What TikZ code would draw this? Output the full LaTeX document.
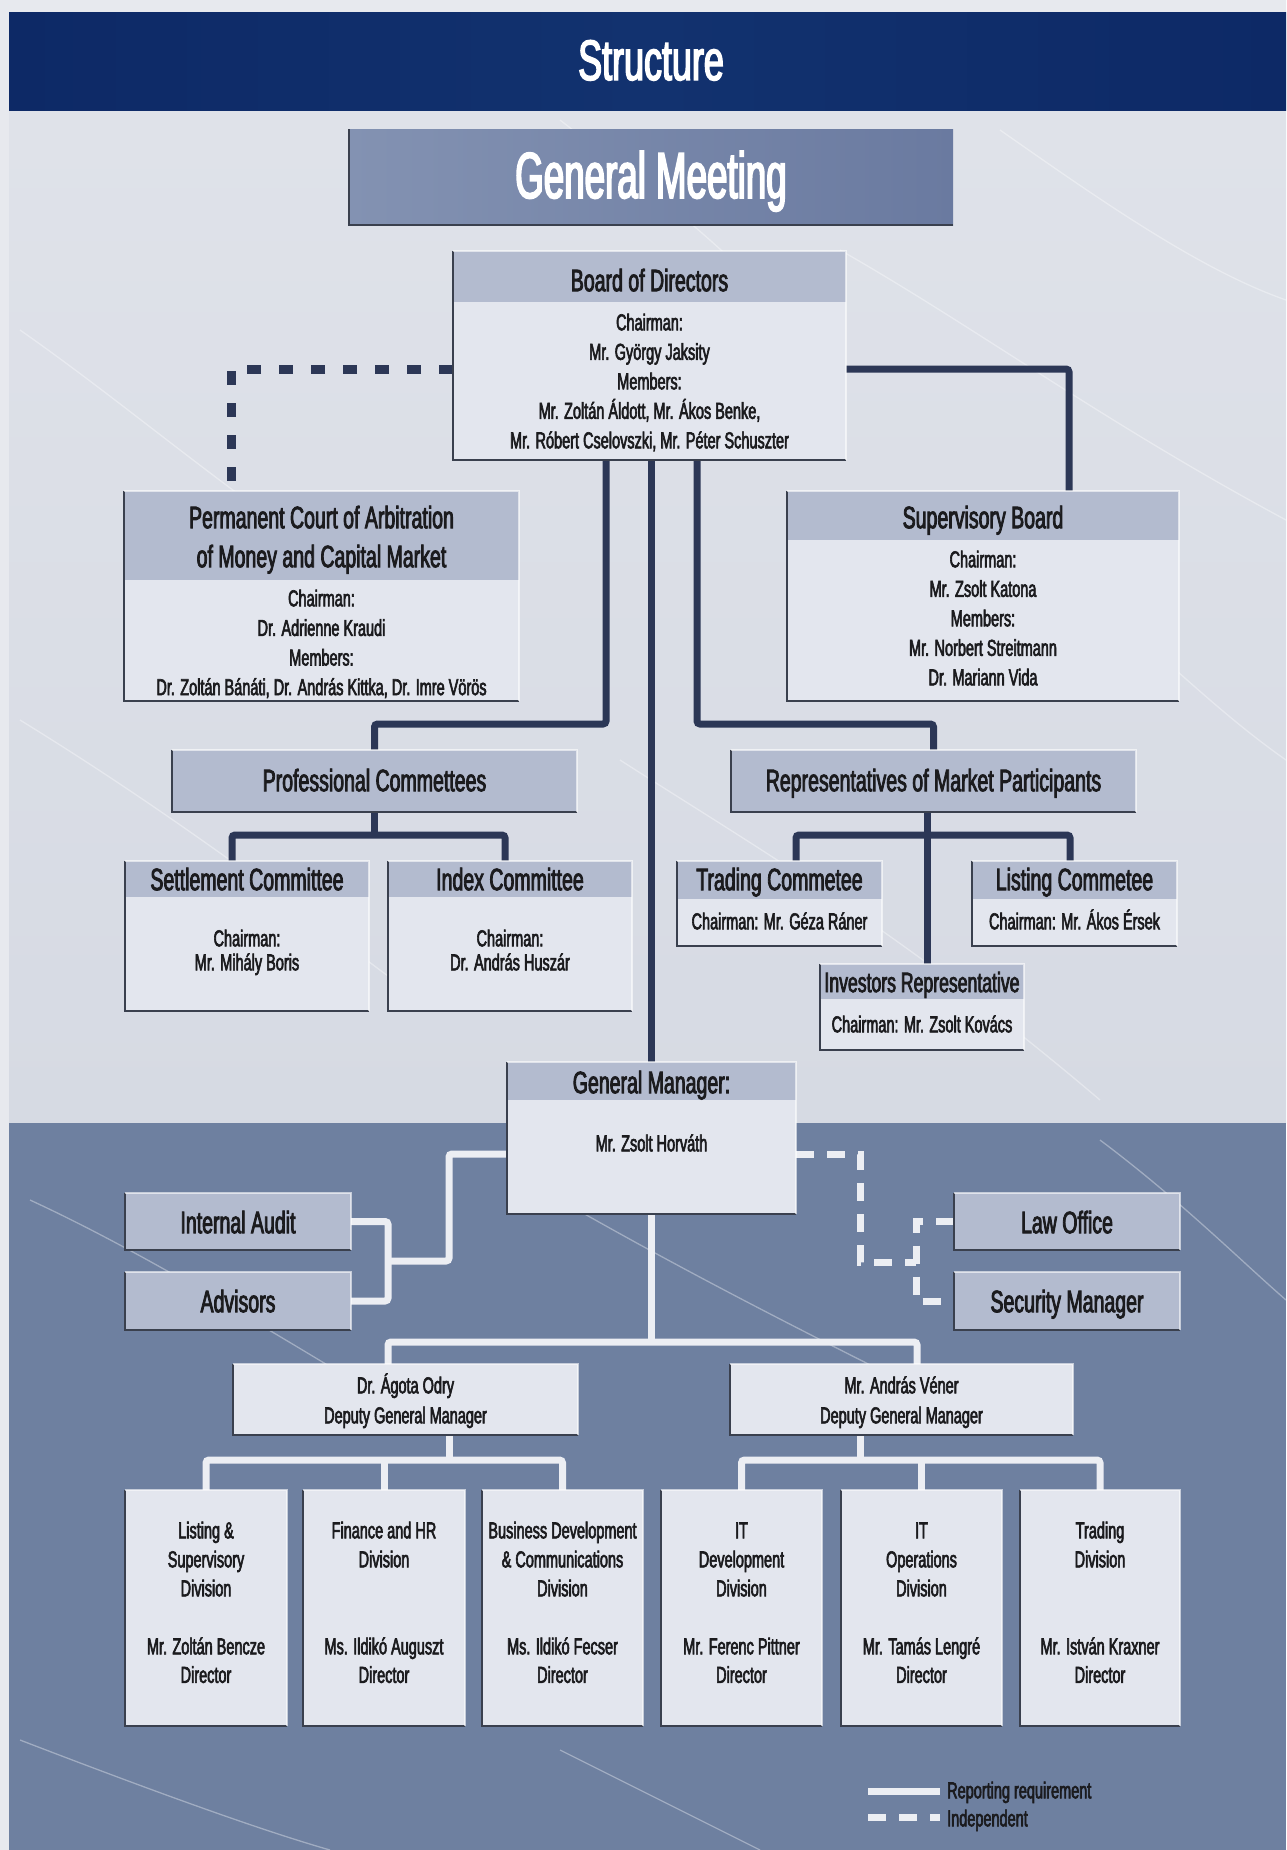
\documentclass[tikz,border=0pt]{standalone}
\usepackage{fontspec}
\setmainfont{Liberation Sans}[FakeStretch=0.63,FakeBold=2.6]
\newfontfamily\gmfont{Liberation Sans}[FakeStretch=0.565,FakeBold=2.6]
\usetikzlibrary{fit,calc}
\pgfdeclarelayer{bg}\pgfdeclarelayer{conn}
\pgfsetlayers{bg,conn,main}
\definecolor{bgtop}{HTML}{D6DAE3}
\definecolor{bgtop2}{HTML}{E0E3EA}
\definecolor{bgbot}{HTML}{6E80A0}
\definecolor{margin}{HTML}{E7E9EE}
\definecolor{banner}{HTML}{0D2966}
\definecolor{banner2}{HTML}{12326F}
\definecolor{head}{HTML}{B3BBCF}
\definecolor{body}{HTML}{E3E6EE}
\definecolor{gmL}{HTML}{8392B2}
\definecolor{gmR}{HTML}{6A7AA0}
\definecolor{navy}{HTML}{2C3756}
\definecolor{ink}{HTML}{1B1B1E}
\definecolor{pale}{HTML}{ECEEF3}
\definecolor{edgeD}{HTML}{3A404E}
\newcommand\fs[2]{\fontsize{#1}{#2}\selectfont}
\newcommand\orgbox[7]{%
  \fill[#7] (#2,#3) rectangle (#4,#5);
  \fill[head] (#2,#3) rectangle (#4,#6);
  \node[frame, fit={(#2,#3) (#4,#5)}] (#1) {};
  \draw[edgeD, line width=2.2] (#1.north west) -- (#1.south west) -- (#1.south east);
  \draw[white, opacity=.6, line width=1.2] (#1.north west) -- (#1.north east) -- (#1.south east);
}
\newcommand\stack[6]{\foreach \l [count=\i] in {#6} {\node[#5, anchor=base] (#1\i) at (#2,{#3+(\i-1)*#4}) {\l};}}
\begin{document}
\begin{tikzpicture}[x=1pt,y=-1pt,
  frame/.style={inner sep=0pt, outer sep=0pt, draw=none},
  txt/.style={text=ink, inner sep=0pt},
  tt/.style={txt, font=\fs{31}{39}},
  bt/.style={txt, font=\fs{23}{29.5}},
  darkline/.style={draw=navy, line width=7, rounded corners=3},
  darkdash/.style={draw=navy, line width=9, dash pattern=on 14 off 18},
  lightline/.style={draw=pale, line width=7, rounded corners=3},
  lightdash/.style={draw=pale, line width=7, dash pattern=on 18 off 13},
  crack/.style={draw=white, line width=1.3, opacity=.35},
]
\useasboundingbox (0,0) rectangle (1286,1850);
\begin{pgfonlayer}{bg}
\shade[top color=bgtop2, bottom color=bgtop] (0,0) rectangle (1286,1123);
\fill[bgbot] (0,1123) rectangle (1286,1850);
\fill[margin] (0,0) rectangle (9,1850);
\fill[margin] (0,0) rectangle (1286,12);
\shade[left color=banner, right color=banner, middle color=banner2] (9,12) rectangle (1286,110);
% faint marble streaks
\draw[crack] (20,330) .. controls (120,400) and (200,470) .. (330,560);
\draw[crack] (560,120) .. controls (650,190) and (720,240) .. (800,330);
\draw[crack] (840,250) .. controls (980,330) and (1100,420) .. (1286,520);
\draw[crack] (1000,130) .. controls (1100,200) and (1200,270) .. (1286,300);
\draw[crack] (20,720) .. controls (150,800) and (260,880) .. (420,1000);
\draw[crack] (620,760) .. controls (760,850) and (900,930) .. (1100,1100);
\draw[crack] (1040,560) .. controls (1130,620) and (1200,700) .. (1286,760);
\draw[crack] (30,1200) .. controls (160,1260) and (300,1350) .. (420,1420);
\draw[crack] (560,1200) .. controls (700,1280) and (820,1340) .. (980,1420);
\draw[crack] (1100,1140) .. controls (1180,1200) and (1240,1260) .. (1286,1300);
\draw[crack] (20,1740) .. controls (150,1790) and (260,1830) .. (330,1850);
\draw[crack] (560,1750) .. controls (640,1790) and (700,1820) .. (760,1850);
\end{pgfonlayer}
\node[txt, text=white, font=\fs{57}{60}, anchor=base] (ttl) at (651,80) {Structure};

% General Meeting
\shade[left color=gmL, right color=gmR] (349,129) rectangle (953,225);
\node[frame, fit={(349,129) (953,225)}] (gm) {};
\draw[edgeD, line width=2.5] (gm.north west) -- (gm.south west) -- (gm.south east);
\node[txt, text=white, font=\gmfont\fs{65}{70}, anchor=base] (gmt) at (651,198) {General Meeting};

% Board of Directors
\orgbox{bod}{453}{251}{846}{460}{302}{body}
\node[tt, anchor=base] (bodt) at (649.5,291.2) {Board of Directors};
\stack{bodb}{649.5}{330.3}{29.5}{bt}{Chairman:, Mr. György Jaksity, Members:, {Mr. Zoltán Áldott, Mr. Ákos Benke,}, {Mr. Róbert Cselovszki, Mr. Péter Schuszter}}

% Permanent Court
\orgbox{pca}{124}{491}{519}{701}{580}{body}
\stack{pcat}{321.5}{528.2}{39}{tt}{Permanent Court of Arbitration, of Money and Capital Market}
\stack{pcab}{321.5}{606.3}{29.6}{bt}{Chairman:, Dr. Adrienne Kraudi, Members:, {Dr. Zoltán Bánáti, Dr. András Kittka, Dr. Imre Vörös}}

% Supervisory Board
\orgbox{sb}{787}{491}{1179}{701}{540}{body}
\node[tt, anchor=base] (sbt) at (983,528.2) {Supervisory Board};
\stack{sbb}{983}{567.3}{29.5}{bt}{Chairman:, Mr. Zsolt Katona, Members:, Mr. Norbert Streitmann, Dr. Mariann Vida}

% Professional committees / Representatives
\orgbox{pc}{172}{750}{577}{812}{812}{head}
\node[tt, anchor=base] (pct) at (374.5,791.2) {Professional Commettees};
\orgbox{rmp}{731}{750}{1136}{812}{812}{head}
\node[tt, anchor=base] (rmpt) at (933.5,791.2) {Representatives of Market Participants};

% Committees
\orgbox{sc}{125}{861}{369}{1011}{897}{body}
\node[tt, anchor=base] (sct) at (247,890.2) {Settlement Committee};
\stack{scb}{247}{946.3}{24}{bt}{Chairman:, Mr. Mihály Boris}
\orgbox{ic}{388}{861}{632}{1011}{897}{body}
\node[tt, anchor=base] (ict) at (510,890.2) {Index Committee};
\stack{icb}{510}{946.3}{24}{bt}{Chairman:, Dr. András Huszár}
\orgbox{tc}{677}{861}{882}{946}{899}{body}
\node[tt, anchor=base] (tct) at (779.5,890.2) {Trading Commetee};
\node[bt, anchor=base] (tcb) at (779.5,929.3) {Chairman: Mr. Géza Ráner};
\orgbox{lc}{972}{861}{1177}{946}{899}{body}
\node[tt, anchor=base] (lct) at (1074.5,890.2) {Listing Commetee};
\node[bt, anchor=base] (lcb) at (1074.5,929.3) {Chairman: Mr. Ákos Érsek};
\orgbox{ir}{820}{964}{1024}{1050}{999}{body}
\node[txt, font=\fs{28}{32}, anchor=base] (irt) at (922,992.1) {Investors Representative};
\node[bt, anchor=base] (irb) at (922,1032.3) {Chairman: Mr. Zsolt Kovács};

% General Manager
\orgbox{gmgr}{507}{1062}{796}{1214}{1100}{body}
\node[tt, anchor=base] (gmgrt) at (651.5,1093.2) {General Manager:};
\node[bt, anchor=base] (gmgrb) at (651.5,1151.3) {Mr. Zsolt Horváth};

% Staff boxes
\orgbox{ia}{125}{1193}{351}{1250}{1250}{head}
\node[tt, anchor=base] (iat) at (238,1233.2) {Internal Audit};
\orgbox{adv}{125}{1272}{351}{1330}{1330}{head}
\node[tt, anchor=base] (advt) at (238,1312.2) {Advisors};
\orgbox{law}{954}{1193}{1180}{1250}{1250}{head}
\node[tt, anchor=base] (lawt) at (1067,1233.2) {Law Office};
\orgbox{sec}{954}{1272}{1180}{1330}{1330}{head}
\node[tt, anchor=base] (sect) at (1067,1312.2) {Security Manager};

% Deputies
\orgbox{dep1}{233}{1364}{578}{1435}{1364}{body}
\stack{dep1t}{405.5}{1393.3}{30}{bt}{Dr. Ágota Odry, Deputy General Manager}
\orgbox{dep2}{730}{1364}{1073}{1435}{1364}{body}
\stack{dep2t}{901.5}{1393.3}{30}{bt}{Mr. András Véner, Deputy General Manager}

% Divisions
\orgbox{div1}{125}{1490}{287}{1726}{1490}{body}
\stack{div1a}{206}{1538.3}{29}{bt}{Listing \&, Supervisory, Division}
\stack{div1b}{206}{1654.3}{28.5}{bt}{Mr. Zoltán Bencze, Director}
\orgbox{div2}{303}{1490}{465}{1726}{1490}{body}
\stack{div2a}{384}{1538.3}{29}{bt}{Finance and HR, Division}
\stack{div2b}{384}{1654.3}{28.5}{bt}{Ms. Ildikó Auguszt, Director}
\orgbox{div3}{482}{1490}{643}{1726}{1490}{body}
\stack{div3a}{562.5}{1538.3}{29}{bt}{Business Development, \& Communications, Division}
\stack{div3b}{562.5}{1654.3}{28.5}{bt}{Ms. Ildikó Fecser, Director}
\orgbox{div4}{661}{1490}{822}{1726}{1490}{body}
\stack{div4a}{741.5}{1538.3}{29}{bt}{IT, Development, Division}
\stack{div4b}{741.5}{1654.3}{28.5}{bt}{Mr. Ferenc Pittner, Director}
\orgbox{div5}{841}{1490}{1002}{1726}{1490}{body}
\stack{div5a}{921.5}{1538.3}{29}{bt}{IT, Operations, Division}
\stack{div5b}{921.5}{1654.3}{28.5}{bt}{Mr. Tamás Lengré, Director}
\orgbox{div6}{1020}{1490}{1180}{1726}{1490}{body}
\stack{div6a}{1100}{1538.3}{29}{bt}{Trading, Division}
\stack{div6b}{1100}{1654.3}{28.5}{bt}{Mr. István Kraxner, Director}

% Legend
\coordinate (lg1) at (868,1791);
\coordinate (lg2) at (940,1791);
\coordinate (lg3) at (868,1817);
\coordinate (lg4) at (940,1817);
\node[bt, anchor=base west] (lgt1) at (947,1798.3) {Reporting requirement};
\node[bt, anchor=base west] (lgt2) at (947,1826.3) {Independent};

% Connectors
\coordinate (j1) at (231,369);
\coordinate (j2) at (1069,369);
\coordinate (j3) at (606,724);
\coordinate (j4) at (697,724);
\coordinate (s1) at (232,835);
\coordinate (s2) at (505,835);
\coordinate (r1) at (796,835);
\coordinate (r2) at (1070,835);
\coordinate (rm) at (927,835);
\coordinate (a1) at (449,1154);
\coordinate (a2) at (449,1261);
\coordinate (a3) at (388,1261);
\coordinate (b1) at (860,1154);
\coordinate (b2) at (860,1262);
\coordinate (b3) at (916,1262);
\coordinate (c0) at (651,1342);
\coordinate (c1) at (388,1342);
\coordinate (c2) at (917,1342);
\coordinate (d0) at (449,1460);
\coordinate (e0) at (860,1460);
\begin{pgfonlayer}{conn}
\draw[darkdash] (j1 -| bod.west) -- (j1) -- (j1 |- pca.north);
\draw[darkline] (j2 -| bod.east) -- (j2) -- (j2 |- sb.north);
\draw[darkline] (j3 |- bod.south) -- (j3) -| (pc.north);
\draw[darkline] (j4 |- bod.south) -- (j4) -| (rmp.north);
\draw[darkline] (gmgr.north |- bod.south) -- (gmgr.north);
\draw[darkline] (pc.south) -- (pc.south |- s1);
\draw[darkline] (s1 |- sc.north) -- (s1) -- (s2) -- (s2 |- ic.north);
\draw[darkline] (rm |- rmp.south) -- (rm |- ir.north);
\draw[darkline] (r1 |- tc.north) -- (r1) -- (r2) -- (r2 |- lc.north);
\draw[lightline] (a1 -| gmgr.west) -- (a1) -- (a2) -- (a3);
\draw[lightline] (ia.east) -| (a3) |- (adv.east);
\draw[lightdash] (b1 -| gmgr.east) -- (b1) -- (b2) -- (b3);
\draw[lightdash] (law.west) -| (b3) |- (sec.west);
\draw[lightline] (gmgr.south) -- (gmgr.south |- c0);
\draw[lightline] (c1 |- dep1.north) -- (c1) -- (c2) -- (c2 |- dep2.north);
\draw[lightline] (d0 |- dep1.south) -- (d0);
\draw[lightline] (div1.north) |- (d0) -| (div3.north);
\draw[lightline] (div2.north) -- (div2.north |- d0);
\draw[lightline] (e0 |- dep2.south) -- (e0);
\draw[lightline] (div4.north) |- (e0) -| (div6.north);
\draw[lightline] (div5.north) -- (div5.north |- e0);
\draw[lightline] (lg1) -- (lg2);
\draw[lightdash] (lg3) -- (lg4);
\end{pgfonlayer}
\end{tikzpicture}
\end{document}
